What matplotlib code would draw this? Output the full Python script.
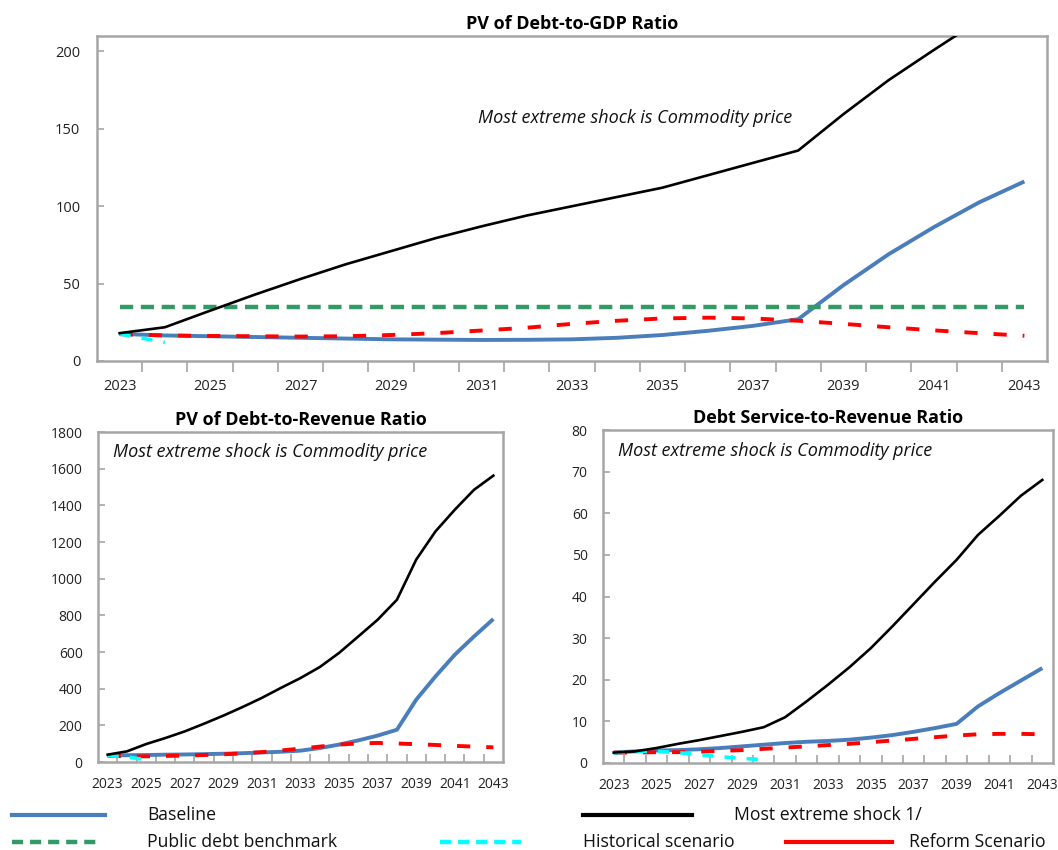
import numpy as np
import matplotlib
matplotlib.use("Agg")
import matplotlib.pyplot as plt
from matplotlib.lines import Line2D

plt.rcParams['font.family'] = ['Open Sans', 'DejaVu Sans']
plt.rcParams['lines.scale_dashes'] = False

years = list(range(2023, 2044))
tick_labels = [str(y) if (y - 2023) % 2 == 0 else "" for y in years]

# PV of Debt-to-GDP Ratio
gdp_baseline = [17.5, 16.5, 16.0, 15.5, 15.0, 14.5, 14.0, 13.8, 13.6, 13.7, 14.0,
                15.0, 16.8, 19.5, 22.7, 27.0, 49.0, 69.0, 86.5, 102.5, 116.0]
gdp_shock = [18.0, 21.8, 32.5, 43.0, 53.0, 62.5, 71.0, 79.5, 87.0, 94.0, 100.0,
             106.0, 112.0, 120.0, 128.0, 136.0, 159.5, 181.5, 201.0, 220.0, 236.0]
gdp_benchmark = [35, 35, 35, 35, 35, 35, 35, 35, 35, 35, 35,
                 35, 35, 35, 35, 35, 35, 35, 35, 35, 35]
gdp_hist = [17.5, 12.0]
gdp_reform = [17.3, 16.5, 16.2, 16.0, 15.8, 16.0, 16.8, 18.0, 19.7, 21.5, 24.0,
              26.0, 27.5, 28.0, 27.5, 26.0, 24.0, 21.8, 19.8, 18.0, 16.3]

# PV of Debt-to-Revenue Ratio
rev_baseline = [35, 37, 38, 40, 41, 43, 45, 48, 52, 56, 62,
                76, 95, 118, 144, 176, 340, 467, 585, 685, 780]
rev_shock = [40, 58, 98, 131, 167, 209, 253, 300, 350, 405, 458,
             518, 595, 685, 776, 885, 1104, 1258, 1376, 1485, 1562]
rev_hist = [35, 28, 12]
rev_reform = [35, 31, 31, 33, 35, 38, 42, 47, 54, 63, 73,
              84, 95, 101, 104, 101, 97, 93, 88, 84, 80]

# Debt Service-to-Revenue Ratio
ds_baseline = [2.5, 2.8, 3.0, 3.1, 3.3, 3.6, 4.0, 4.4, 4.8, 5.1, 5.3,
               5.6, 6.1, 6.7, 7.5, 8.4, 9.4, 13.6, 16.8, 19.8, 22.8]
ds_shock = [2.5, 2.8, 3.6, 4.6, 5.5, 6.5, 7.5, 8.6, 11.0, 14.8, 18.8,
            23.0, 27.6, 32.8, 38.2, 43.6, 48.8, 54.8, 59.4, 64.2, 68.0]
ds_hist = [2.4, 2.8, 2.8, 2.5, 2.0, 1.5, 1.1, 0.8]
ds_reform = [2.5, 2.5, 2.6, 2.6, 2.7, 2.9, 3.1, 3.4, 3.7, 4.0, 4.3,
             4.6, 5.0, 5.4, 5.8, 6.2, 6.6, 6.9, 7.0, 7.0, 6.9]

annotation = "Most extreme shock is Commodity price"

C_BASE = "#4A7EBB"
C_BENCH = "#339966"
C_HIST = "#00FFFF"
C_REF = "#FF0000"
C_SPINE = "#A6A6A6"

W, H = 1058, 850
fig = plt.figure(figsize=(W / 100, H / 100), dpi=100)


def px_axes(left, top, right, bottom):
    return fig.add_axes([left / W, 1 - bottom / H, (right - left) / W, (bottom - top) / H])


def style_axes(ax, ylim, yticks, xtick_dir, title, tick_fs, ypad, xpad, ann_xy):
    n = len(years)
    x = np.arange(n)
    ax.set_xlim(-0.5, n - 0.5)
    ax.set_ylim(*ylim)
    ax.set_yticks(yticks)
    ax.set_xticks(x)
    ax.set_xticklabels(tick_labels)
    ax.set_xticks(np.arange(0.5, n - 1, 1.0), minor=True)
    ax.tick_params(axis='x', which='major', length=0, pad=xpad, labelsize=tick_fs, colors='#222222')
    ax.tick_params(axis='x', which='minor', length=6, width=1.2, color=C_SPINE, direction=xtick_dir)
    ax.tick_params(axis='y', which='major', length=5, width=1.2, color=C_SPINE, direction='in',
                   pad=ypad, labelsize=tick_fs, labelcolor='#222222')
    for s in ax.spines.values():
        s.set_color(C_SPINE)
        s.set_linewidth(1.8)
    ax.set_title(title, fontsize=13, fontweight='bold', pad=5)
    ax.text(ann_xy[0], ann_xy[1], annotation, transform=ax.transAxes, fontsize=13,
            style='italic', ha='left', va='center', color='#111111')


def pad_series(vals):
    arr = np.full(len(years), np.nan)
    arr[:len(vals)] = vals
    return arr


def draw(ax, base, shock, hist, reform, bench=None):
    x = np.arange(len(years))
    ax.plot(x, base, color=C_BASE, lw=2.8, solid_capstyle='butt', zorder=2)
    if bench is not None:
        ax.plot(x, bench, color=C_BENCH, lw=3.2, dashes=(9.5, 5.5), zorder=3)
    ax.plot(x, reform, color=C_REF, lw=2.8, dashes=(9.5, 11.5), zorder=4)
    ax.plot(x, pad_series(hist), color=C_HIST, lw=2.6, dashes=(8, 8), zorder=5)
    ax.plot(x, shock, color='black', lw=1.9, zorder=6)


# Top chart
ax1 = px_axes(97, 36, 1047, 361)
draw(ax1, gdp_baseline, gdp_shock, gdp_hist, gdp_reform, bench=gdp_benchmark)
style_axes(ax1, (0, 210), [0, 50, 100, 150, 200], 'out', "PV of Debt-to-GDP Ratio",
           10.5, 12, 13, (0.401, 0.748))
ax1.tick_params(axis='x', which='minor', length=8)

# Bottom left
ax2 = px_axes(98, 432, 503, 762)
draw(ax2, rev_baseline, rev_shock, rev_hist, rev_reform)
style_axes(ax2, (0, 1800), list(range(0, 1801, 200)), 'in', "PV of Debt-to-Revenue Ratio",
           10, 11, 11, (0.038, 0.939))

# Bottom right
ax3 = px_axes(603, 430, 1053, 763)
draw(ax3, ds_baseline, ds_shock, ds_hist, ds_reform)
style_axes(ax3, (0, 80), list(range(0, 81, 10)), 'in', "Debt Service-to-Revenue Ratio",
           10, 11, 11, (0.034, 0.937))

# Legend (drawn in pixel coordinates)
lg = fig.add_axes([0, 0, 1, 1], zorder=-1)
lg.set_xlim(0, W)
lg.set_ylim(H, 0)
lg.axis('off')
lfs = 12.7
legend_items = [
    ("Baseline", dict(color=C_BASE, lw=3.0), (12, 105), 147, 815),
    ("Most extreme shock 1/", dict(color='black', lw=3.0), (583, 692), 734, 815),
    ("Public debt benchmark", dict(color=C_BENCH, lw=3.2, dashes=(8, 5)), (12, 100), 147, 842),
    ("Historical scenario", dict(color=C_HIST, lw=3.2, dashes=(8, 5)), (440, 521), 583, 842),
    ("Reform Scenario", dict(color=C_REF, lw=3.0), (786, 892), 909, 842),
]
for label, kw, (x0, x1), tx, y in legend_items:
    lg.add_line(Line2D([x0, x1], [y, y], **kw))
    lg.text(tx, y, label, fontsize=lfs, ha='left', va='center', color='#111111')

fig.savefig("out.png", dpi=100)
